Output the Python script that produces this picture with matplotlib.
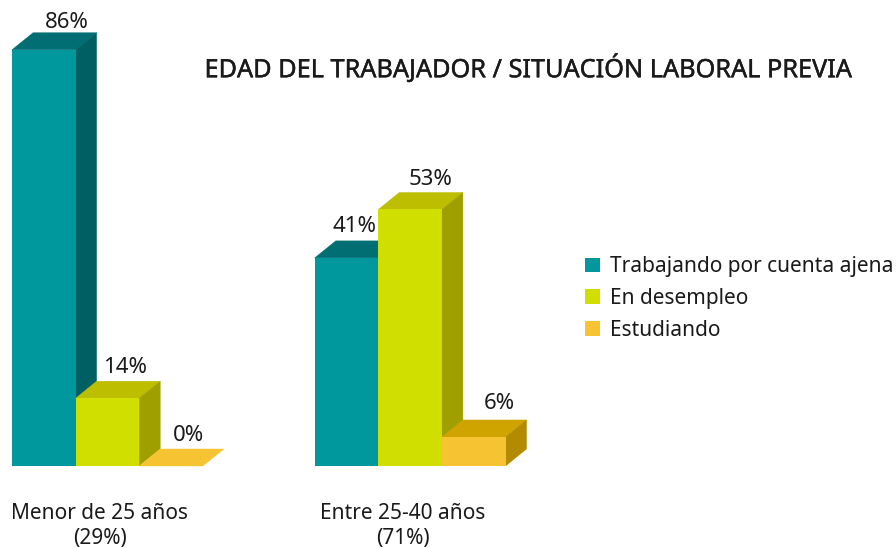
import numpy as np
import matplotlib
matplotlib.use('Agg')
import matplotlib.pyplot as plt
from matplotlib.patches import Polygon
import matplotlib.patheffects as pe

plt.rcParams['font.family']=['Noto Sans','DejaVu Sans']

grupos=['Menor de 25 años\n(29%)','Entre 25-40 años\n(71%)']
series=['Trabajando por cuenta ajena','En desempleo','Estudiando']
# heights as drawn in the picture, the 41% bar is drawn taller than its label says
trabajando=[86,43]
desempleo=[14,53]
estudiando=[0,6]
etq_trabajando=['86%','41%']
etq_desempleo=['14%','53%']
etq_estudiando=['0%','6%']

frente=['#00979D','#D0DF00','#F6C333']
arriba=['#006E73','#BDBE00','#CFA300']
lado=['#005F63','#9FA000','#B38B00']
# label nudges in px, (serie, grupo)
ajuste_x=[[2,-13],[-3,-1],[-3,5]]
ajuste_y=[[-4,0],[0,-1],[0,3]]

W,H=896,548
PX=63.6 # px per bar width
PY=4.84 # px per percent
X0,Y0=12,466
dx=21/PX
dy=17/PY
pos=np.array([0,4.76])

fig=plt.figure(figsize=(W/100,H/100),dpi=100)
ax=fig.add_axes([0,0,1,1])
ax.set_xlim(-X0/PX,(W-X0)/PX)
ax.set_ylim(-(H-Y0)/PY,Y0/PY)
ax.axis('off')

valores=[trabajando,desempleo,estudiando]
etiquetas=[etq_trabajando,etq_desempleo,etq_estudiando]
for s in range(3):
    xs=pos+s
    z=2+s*3
    ax.bar(xs,valores[s],width=1,align='edge',color=frente[s],label=series[s],zorder=z,linewidth=0)
    for g,(x,v,t) in enumerate(zip(xs,valores[s],etiquetas[s])):
        col=frente[s] if v==0 else arriba[s]
        ax.add_patch(Polygon([(x,v),(x+1,v),(x+1+dx,v+dy),(x+dx,v+dy)],fc=col,ec=col,lw=0.3,zorder=z-1))
        if v>0:
            ax.add_patch(Polygon([(x+1,0),(x+1+dx,dy),(x+1+dx,v+dy),(x+1,v)],fc=lado[s],ec=lado[s],lw=0.3,zorder=z-1))
        ax.text(x+0.5+dx+ajuste_x[s][g]/PX,v+dy+0.7+ajuste_y[s][g]/PY,t,ha='center',va='bottom',fontsize=16,color='#1a1a1a',zorder=20)

for x,g in zip(pos,grupos):
    ax.text(x+1.38,-7.6,g,ha='center',va='top',fontsize=15,color='#1a1a1a',linespacing=1.28)

fig.text(528/W,1-68.5/H,'EDAD DEL TRABAJADOR / SITUACIÓN LABORAL PREVIA',
         ha='center',va='center',fontsize=18.2,color='#1a1a1a',
         path_effects=[pe.withStroke(linewidth=0.3,foreground='#1a1a1a')])

leg=ax.legend(loc='upper left',bbox_to_anchor=(579/W,1-250/H),bbox_transform=fig.transFigure,frameon=False,
              fontsize=15,handlelength=0.72,handleheight=0.72,handletextpad=0.47,labelspacing=0.52,
              borderpad=0.3,borderaxespad=0,labelcolor='#1a1a1a')

plt.savefig('out.png',dpi=100)
